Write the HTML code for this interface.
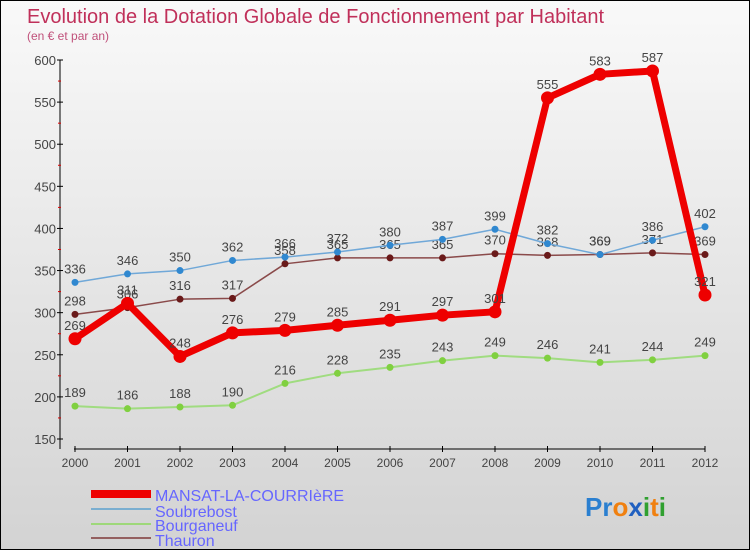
<!DOCTYPE html>
<html><head><meta charset="utf-8"><style>
body{margin:0}
#c{width:748px;height:548px;border:1px solid #000;background:linear-gradient(#f9f9f9,#d3d3d3);position:relative;overflow:hidden;font-family:"Liberation Sans",sans-serif}
</style></head><body>
<div id="c">
<svg id="s" width="748" height="548" style="position:absolute;left:0;top:0">
<text x="26" y="22" font-size="20" fill="#c0305a">Evolution de la Dotation Globale de Fonctionnement par Habitant</text>
<text x="26" y="39" font-size="12" fill="#c0507a">(en € et par an)</text>
<line x1="59" y1="59" x2="59" y2="448" stroke="#000"/>
<line x1="73" y1="448" x2="704" y2="448" stroke="#000"/>
<g id="ax"></g><g id="ser"></g>
<g>
<rect x="90" y="489" width="60" height="8" fill="#ee0000"/>
<text x="154" y="500" font-size="16" fill="#6666ff">MANSAT-LA-COURRIèRE</text>
<line x1="90" y1="508" x2="150" y2="508" stroke="#7aaed0" stroke-width="2"/>
<text x="154" y="516" font-size="16" fill="#6666ff">Soubrebost</text>
<line x1="90" y1="523" x2="150" y2="523" stroke="#9ed87a" stroke-width="2"/>
<text x="154" y="530" font-size="16" fill="#6666ff">Bourganeuf</text>
<line x1="90" y1="537" x2="150" y2="537" stroke="#946060" stroke-width="2"/>
<text x="154" y="545" font-size="16" fill="#6666ff">Thauron</text>
</g>
<text x="584" y="515" font-size="26" font-weight="bold"><tspan fill="#2a7fd0">Pr</tspan><tspan fill="#f08010">o</tspan><tspan fill="#2060c0">x</tspan><tspan fill="#30a030">i</tspan><tspan fill="#f08010">t</tspan><tspan fill="#30a030">i</tspan></text>
</svg></div>
<script>
const years=["2000","2001","2002","2003","2004","2005","2006","2007","2008","2009","2010","2011","2012"];
const yTicks=[150,200,250,300,350,400,450,500,550,600];
const mansat=[269,311,248,276,279,285,291,297,301,555,583,587,321];
const soubrebost=[336,346,350,362,366,372,380,387,399,382,369,386,402];
const bourganeuf=[189,186,188,190,216,228,235,243,249,246,241,244,249];
const thauron=[298,306,316,317,358,365,365,365,370,368,369,371,369];
const NS="http://www.w3.org/2000/svg";
const X=i=>74+i*52.5, Y=v=>59+(600-v)*0.8422;
function mk(t,a,p){const e=document.createElementNS(NS,t);for(const k in a)e.setAttribute(k,a[k]);p.appendChild(e);return e;}
const ax=document.getElementById('ax'),ser=document.getElementById('ser');
yTicks.forEach(v=>{
 const t=mk('text',{x:55,y:Y(v)+5,'font-size':13,fill:'#444','text-anchor':'end'},ax);t.textContent=v;
 
 
 mk('line',{x1:56,x2:62,y1:Y(v),y2:Y(v),stroke:'#000'},ax);
 if(v<600)mk('line',{x1:57,x2:60,y1:Y(v+25),y2:Y(v+25),stroke:'#d00'},ax);
});
years.forEach((y,i)=>{
 mk('line',{x1:X(i),x2:X(i),y1:445,y2:451,stroke:'#000'},ax);
 const t=mk('text',{x:X(i),y:466,'font-size':12,fill:'#444','text-anchor':'middle'},ax);t.textContent=y;
 
 
});
function series(d,name,col,w,r,dot){
 const g=mk('g',{},ser);
 
 
 mk('polyline',{points:d.map((v,i)=>X(i)+','+Y(v)).join(' '),fill:'none',stroke:col,'stroke-width':w,'stroke-linejoin':'round'},g);
 d.forEach((v,i)=>{
  const c=mk('circle',{cx:X(i),cy:Y(v),r:r,fill:dot},g);
  
  
  const t=mk('text',{x:X(i),y:Y(v)-9,'font-size':13,fill:'#444','text-anchor':'middle'},g);t.textContent=v;
  
  
 });
}
series(bourganeuf,'bourganeuf','#a0dc80',2,3.5,'#80d040');
series(thauron,'thauron','#8a4a4a',1.5,3.5,'#6a1a1a');
series(soubrebost,'soubrebost','#70a8d8',1.5,3.5,'#3088d0');
series(mansat,'mansat','#ee0000',7,6.5,'#ee0000');
</script>
</body></html>
